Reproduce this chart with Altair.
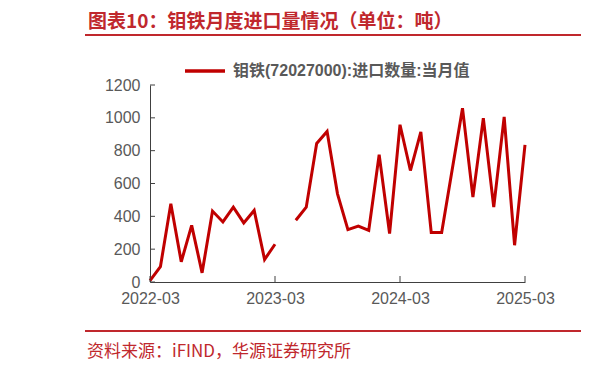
import altair as alt
import pandas as pd

# ---- data ----
months = ["2022-03","2022-04","2022-05","2022-06","2022-07","2022-08","2022-09","2022-10",
          "2022-11","2022-12","2023-01","2023-02","2023-03","2023-04","2023-05","2023-06",
          "2023-07","2023-08","2023-09","2023-10","2023-11","2023-12","2024-01","2024-02",
          "2024-03","2024-04","2024-05","2024-06","2024-07","2024-08","2024-09","2024-10",
          "2024-11","2024-12","2025-01","2025-02","2025-03"]
values = [8, 93, 477, 123, 345, 56, 432, 366,
          456, 360, 436, 137, 230, None, 376, 456,
          844, 917, 537, 319, 341, 315, 776, 295,
          958, 679, 915, 301, 301, 680, 1059, 517,
          998, 456, 1006, 224, 835]
series_name = "钼铁(72027000):进口数量:当月值"
x_tick_labels = ["2022-03", "2023-03", "2024-03", "2025-03"]
y_ticks = [0, 200, 400, 600, 800, 1000, 1200]
title_text = "图表10：钼铁月度进口量情况（单位：吨）"
source_text = "资料来源：iFIND，华源证券研究所"

# ---- build table ----
rows = []
seg = 0
for i, (m, v) in enumerate(zip(months, values)):
    if v is None:
        seg += 1
        continue
    rows.append({"idx": i, "month": m, "value": v, "seg": seg, "series": series_name})
df = pd.DataFrame(rows)
x_tick_idx = [months.index(m) for m in x_tick_labels]

W, H = 375, 197
RED = "#c00000"
DECO = "#c0282d"
GRAY = "#595959"
AXC = "#404040"
LAT = "Liberation Sans, Noto Sans CJK SC"
CJK = "Noto Sans CJK SC"

label_expr = "[" + ",".join("'%s'" % s for s in x_tick_labels) + "][round(datum.value/12)]"

xscale = alt.Scale(domain=[0, len(months) - 1], nice=False, zero=False)
yscale = alt.Scale(domain=[0, 1200], nice=False)

xaxis = alt.Axis(values=x_tick_idx, labelExpr=label_expr, title=None, grid=False,
                 ticks=False, domainColor=AXC, labelColor=GRAY, labelFont=LAT,
                 labelFontSize=16, labelPadding=8, labelFlush=False, labelOverlap=False)
yaxis = alt.Axis(values=y_ticks, format="d", title=None, grid=False, ticks=False,
                 domainColor=AXC, labelColor=GRAY, labelFont=LAT,
                 labelFontSize=16, labelPadding=10, labelFlush=False, labelOverlap=False)

line = alt.Chart(df).mark_line(strokeWidth=3, strokeJoin="miter").encode(
    x=alt.X("idx:Q", scale=xscale, axis=xaxis),
    y=alt.Y("value:Q", scale=yscale, axis=yaxis),
    detail="seg:N",
    color=alt.Color("series:N", scale=alt.Scale(range=[RED]),
                    legend=alt.Legend(title=None, orient="none", legendX=33, legendY=-36,
                                      symbolType="stroke", symbolSize=1600,
                                      symbolStrokeWidth=3.5, labelFont=LAT,
                                      labelFontSize=16, labelFontWeight="bold",
                                      labelColor=GRAY, labelOffset=6, labelLimit=500)),
)

ytick_df = pd.DataFrame({"v": y_ticks})
yticks = alt.Chart(ytick_df).mark_rule(color=AXC, strokeWidth=1).encode(
    y=alt.Y("v:Q", scale=yscale, axis=yaxis), x=alt.value(0), x2=alt.value(5))

xtick_df = pd.DataFrame({"i": x_tick_idx})
xticks = alt.Chart(xtick_df).mark_rule(color=AXC, strokeWidth=1).encode(
    x=alt.X("i:Q", scale=xscale, axis=xaxis), y=alt.value(H - 6), y2=alt.value(H))

title = alt.Chart(pd.DataFrame({"t": [title_text]})).mark_text(
    align="left", baseline="middle", font=CJK, fontSize=19, fontWeight="bold", color=DECO
).encode(text="t:N", x=alt.value(-62), y=alt.value(-63))

source = alt.Chart(pd.DataFrame({"t": [source_text]})).mark_text(
    align="left", baseline="middle", font=CJK, fontSize=17, color=DECO
).encode(text="t:N", x=alt.value(-63), y=alt.value(267))

def hrule(x1, x2, y):
    return alt.Chart(pd.DataFrame({"a": [0]})).mark_rule(color=DECO, strokeWidth=2).encode(
        x=alt.value(x1), x2=alt.value(x2), y=alt.value(y))

chart = alt.layer(
    line, yticks, xticks, title, source,
    hrule(-65, 431, -50), hrule(-65, 431, 246),
).properties(
    width=W, height=H,
    autosize=alt.AutoSizeParams(type="none"),
    padding={"left": 142, "top": 77, "right": 81, "bottom": 82},
).configure_view(stroke=None).configure_legend(padding=0)

chart.save("out.html", embed_options={"renderer": "svg", "actions": False})
